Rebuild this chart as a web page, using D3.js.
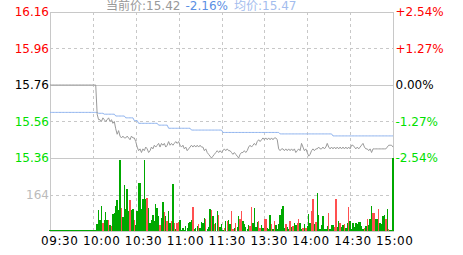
<!DOCTYPE html>
<html>
<head>
<meta charset="utf-8">
<script src="https://cdn.jsdelivr.net/npm/d3@7"></script>
<style>
  body { margin: 0; background: #fff; }
  svg { display: block; }
  text { font-family: "DejaVu Sans", "Noto Sans CJK SC", sans-serif; }
</style>
</head>
<body>
<div id="chart"></div>
<script>
// one value per minute, 09:30 .. 11:30 / 13:00 .. 15:00 (241 points)
const prices = [
  15.76,15.76,15.76,15.76,15.76,15.76,15.76,15.76,15.76,15.76,
  15.76,15.76,15.76,15.76,15.76,15.76,15.76,15.76,15.76,15.76,
  15.76,15.76,15.76,15.76,15.76,15.76,15.76,15.76,15.76,15.76,
  15.76,15.76,15.76,15.60,15.57,15.57,15.56,15.58,15.57,15.56,
  15.57,15.58,15.56,15.57,15.55,15.56,15.52,15.49,15.51,15.48,
  15.47,15.48,15.47,15.47,15.48,15.47,15.46,15.48,15.47,15.47,
  15.45,15.42,15.40,15.41,15.39,15.41,15.40,15.42,15.41,15.39,
  15.40,15.42,15.41,15.43,15.42,15.43,15.44,15.42,15.44,15.43,
  15.44,15.42,15.43,15.45,15.43,15.44,15.43,15.44,15.45,15.44,
  15.45,15.43,15.42,15.43,15.41,15.42,15.40,15.41,15.42,15.43,
  15.42,15.43,15.42,15.43,15.42,15.43,15.42,15.42,15.40,15.41,
  15.39,15.38,15.37,15.36,15.37,15.38,15.39,15.40,15.39,15.40,
  15.39,15.40,15.41,15.40,15.41,15.40,15.40,15.39,15.38,15.39,
  15.38,15.37,15.36,15.38,15.39,15.39,15.40,15.39,15.40,15.42,
  15.43,15.42,15.43,15.44,15.43,15.45,15.46,15.45,15.46,15.47,
  15.46,15.47,15.46,15.47,15.46,15.47,15.46,15.47,15.47,15.46,
  15.41,15.40,15.41,15.41,15.40,15.41,15.40,15.41,15.40,15.41,
  15.40,15.41,15.39,15.40,15.41,15.40,15.44,15.42,15.40,15.41,
  15.39,15.37,15.38,15.40,15.41,15.40,15.41,15.41,15.42,15.41,
  15.41,15.42,15.41,15.42,15.44,15.42,15.41,15.42,15.41,15.42,
  15.41,15.42,15.41,15.42,15.41,15.42,15.41,15.42,15.41,15.42,
  15.41,15.43,15.43,15.42,15.41,15.42,15.41,15.42,15.43,15.44,
  15.42,15.41,15.41,15.40,15.41,15.39,15.41,15.41,15.41,15.41,
  15.41,15.41,15.41,15.41,15.41,15.41,15.42,15.43,15.43,15.43,
  15.42
];

const avgPrices = [
  15.61,15.61,15.61,15.61,15.61,15.61,15.61,15.61,15.61,15.61,
  15.61,15.61,15.61,15.61,15.61,15.61,15.61,15.61,15.61,15.61,
  15.61,15.61,15.61,15.61,15.61,15.61,15.61,15.61,15.61,15.61,
  15.61,15.61,15.61,15.61,15.605,15.605,15.605,15.605,15.60,15.60,
  15.60,15.60,15.60,15.60,15.60,15.60,15.59,15.59,15.59,15.59,
  15.59,15.59,15.59,15.58,15.58,15.58,15.58,15.58,15.58,15.565,
  15.565,15.565,15.55,15.55,15.55,15.55,15.55,15.55,15.55,15.55,
  15.55,15.55,15.55,15.55,15.55,15.55,15.54,15.54,15.54,15.54,
  15.54,15.54,15.54,15.523,15.523,15.523,15.523,15.523,15.523,15.523,
  15.523,15.523,15.523,15.523,15.523,15.523,15.523,15.523,15.523,15.513,
  15.513,15.513,15.513,15.513,15.513,15.513,15.513,15.513,15.513,15.513,
  15.513,15.513,15.513,15.513,15.513,15.513,15.513,15.513,15.513,15.513,
  15.513,15.50,15.50,15.50,15.50,15.50,15.50,15.50,15.50,15.50,
  15.50,15.50,15.50,15.50,15.50,15.50,15.50,15.50,15.50,15.50,
  15.50,15.50,15.50,15.50,15.50,15.50,15.50,15.50,15.50,15.50,
  15.50,15.50,15.50,15.50,15.50,15.50,15.50,15.50,15.50,15.50,
  15.50,15.492,15.492,15.492,15.492,15.492,15.492,15.492,15.492,15.492,
  15.492,15.492,15.492,15.492,15.492,15.492,15.492,15.492,15.492,15.492,
  15.492,15.492,15.492,15.492,15.492,15.492,15.492,15.492,15.492,15.492,
  15.492,15.492,15.492,15.492,15.492,15.492,15.492,15.492,15.481,15.481,
  15.481,15.481,15.481,15.481,15.481,15.481,15.481,15.481,15.481,15.481,
  15.481,15.481,15.481,15.481,15.481,15.481,15.481,15.481,15.481,15.481,
  15.481,15.481,15.481,15.481,15.481,15.481,15.481,15.481,15.481,15.481,
  15.481,15.481,15.481,15.481,15.481,15.481,15.481,15.481,15.481,15.481,
  15.481
];

const volumes = [
  0,0,0,0,0,0,0,0,0,0,
  0,0,0,0,0,0,0,0,0,0,
  0,0,0,0,0,0,0,0,0,0,
  0,0,0,31,94,49,112,36,49,85,
  49,49,27,22,76,81,112,139,94,319,
  103,63,207,99,189,90,139,94,99,49,
  27,90,216,216,99,144,319,144,148,103,
  36,49,72,45,121,103,67,27,58,130,
  85,67,45,90,36,45,211,36,9,36,
  40,49,0,13,0,22,13,36,40,49,
  108,9,13,22,31,13,40,36,58,54,
  9,18,99,94,67,31,36,90,72,18,
  31,0,13,45,45,49,31,90,9,13,
  36,18,67,54,90,45,31,18,9,27,
  22,108,36,103,18,40,45,13,27,13,
  54,54,13,9,72,31,9,45,27,9,
  31,72,99,112,13,31,18,9,45,18,
  22,36,27,36,54,36,9,13,31,13,
  22,76,36,90,144,31,40,171,72,9,
  27,67,9,9,22,81,9,27,27,18,
  144,18,45,36,18,27,31,13,36,108,
  45,9,36,18,36,31,40,40,22,9,
  13,22,54,27,54,112,81,81,54,54,
  99,36,31,67,72,54,99,9,0,4,
  328
];

// r = price up that minute, g = down / flat
const volDir = (
  "gggggggggg" + "gggggggggg" + "gggggggggg" +
  "gggggggrgg" + "grgrgggggg" + "rgggggrggr" +
  "ggggggggrg" + "gggggggrgg" + "rgrggrgrgr" +
  "rggggggggg" + "rgggrggggr" + "gggrgrggrg" +
  "ggrgrggrrg" + "rggrrggggg" + "rrggggrrgg" +
  "rrgggrgrgg" + "gggggrggrg" + "rggrrggrgr" +
  "gggrrgrggg" + "gggggrgggr" + "rggrggrggr" +
  "gggggggggg" + "rgrgggrrgg" + "rggggrgrgg" + "g"
).split("");

const priceTicks = [16.16, 15.96, 15.76, 15.56, 15.36];
const pctTicks = ["+2.54%", "+1.27%", "0.00%", "-1.27%", "-2.54%"];
const volTicks = [164];
const gridMinutes = [30, 60, 90, 120, 150, 180, 210];
const timeLabels = ["09:30", "10:00", "10:30", "11:00", "11:30", "13:30", "14:00", "14:30", "15:00"];

const lastPrice = "15.42", lastPct = "-2.16%", lastAvg = "15.47";

const width = 463, height = 255;
const plotL = 50, plotR = 393, plotT = 12, plotMid = 158, plotB = 231;

const svg = d3.select("#chart").append("svg")
  .attr("width", width)
  .attr("height", height);

const x = d3.scaleLinear().domain([0, 240]).range([plotL, plotR]);
const y = d3.scaleLinear().domain([15.36, 16.16]).range([plotMid, plotT]);
const yv = d3.scaleLinear().domain([0, 328]).range([plotB, plotMid]);

const px = v => Math.round(v) + 0.5;
const gridColor = "#c8c8c8";

// grid
const grid = svg.append("g").attr("stroke", gridColor).attr("fill", "none");
priceTicks.forEach((p, i) => {
  grid.append("line")
    .attr("x1", plotL).attr("x2", plotR)
    .attr("y1", px(y(p))).attr("y2", px(y(p)))
    .attr("stroke-dasharray", i % 2 === 1 ? "3,3" : null);
});
volTicks.forEach(v => {
  grid.append("line")
    .attr("x1", plotL).attr("x2", plotR)
    .attr("y1", px(yv(v))).attr("y2", px(yv(v)))
    .attr("stroke-dasharray", "3,3");
});
gridMinutes.forEach(m => {
  grid.append("line")
    .attr("x1", px(x(m))).attr("x2", px(x(m)))
    .attr("y1", plotT).attr("y2", plotB)
    .attr("stroke-dasharray", "3,3");
});
grid.append("rect")
  .attr("x", plotL + 0.5).attr("y", plotT + 0.5)
  .attr("width", plotR - plotL).attr("height", plotB - plotT);

// volume bars
svg.append("g")
  .selectAll("rect")
  .data(volumes)
  .join("rect")
  .attr("x", (d, i) => x(i) - 0.7)
  .attr("width", 1.4)
  .attr("y", d => Math.min(yv(d), plotB - 1))
  .attr("height", d => Math.max(1, plotB - yv(d)))
  .attr("fill", (d, i) => volDir[i] === "r" ? "#ff5050" : "#00a800")
  .attr("shape-rendering", "crispEdges");

// avg + price lines
const line = d3.line().x((d, i) => x(i)).y(d => y(d));
svg.append("path")
  .datum(avgPrices)
  .attr("d", line)
  .attr("fill", "none")
  .attr("stroke", "#8fb3ee")
  .attr("stroke-width", 1);
svg.append("path")
  .datum(prices)
  .attr("d", line)
  .attr("fill", "none")
  .attr("stroke", "#9a9a9a")
  .attr("stroke-width", 1);

// axis labels
const signColor = i => i < 2 ? "#ff0000" : i === 2 ? "#000000" : "#00e000";
svg.append("g")
  .selectAll("text")
  .data(priceTicks)
  .join("text")
  .attr("x", plotL - 1)
  .attr("y", d => y(d) + 4)
  .attr("text-anchor", "end")
  .attr("font-size", 12)
  .attr("fill", (d, i) => signColor(i))
  .text(d => d.toFixed(2));

svg.append("g")
  .selectAll("text")
  .data(pctTicks)
  .join("text")
  .attr("x", plotR + 2.5)
  .attr("y", (d, i) => y(priceTicks[i]) + 4)
  .attr("font-size", 12)
  .attr("fill", (d, i) => signColor(i))
  .text(d => d);

svg.append("g")
  .selectAll("text")
  .data(volTicks)
  .join("text")
  .attr("x", plotL - 1)
  .attr("y", d => yv(d) + 4)
  .attr("text-anchor", "end")
  .attr("font-size", 12)
  .attr("fill", "#bbbbbb")
  .text(d => d);

const tx = d3.scalePoint().domain(timeLabels).range([41, 376]);
svg.append("g")
  .selectAll("text")
  .data(timeLabels)
  .join("text")
  .attr("x", d => tx(d))
  .attr("y", 244.5)
  .attr("font-size", 12)
  .attr("letter-spacing", 0.6)
  .attr("fill", "#000")
  .text(d => d);

// header
const head = [
  { t: "当前价:" + lastPrice, x: 106, c: "#999999" },
  { t: lastPct, x: 185.5, c: "#5b8fe4" },
  { t: "均价:" + lastAvg, x: 234, c: "#a3bdee" }
];
svg.append("g")
  .selectAll("text")
  .data(head)
  .join("text")
  .attr("x", d => d.x)
  .attr("y", 9.5)
  .attr("font-size", 12)
  .attr("fill", d => d.c)
  .text(d => d.t);
</script>
</body>
</html>
